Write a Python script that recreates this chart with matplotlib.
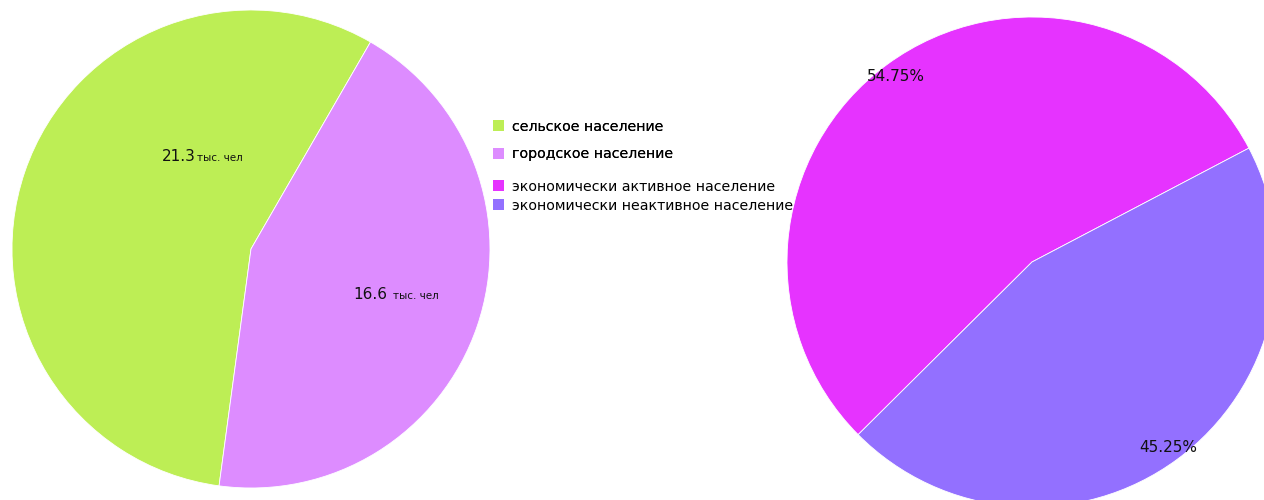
import matplotlib.pyplot as plt
from matplotlib.patches import Patch

# левая диаграмма: население, тыс. чел
pop_labels = ['сельское население', 'городское население']
pop_values = [21.3, 16.6]
pop_colors = ['#BDEE55', '#DD8CFF']

# правая диаграмма: экономическая активность, %
econ_labels = ['экономически активное население', 'экономически неактивное население']
econ_values = [54.75, 45.25]
econ_colors = ['#E633FF', '#9370FF']

W, H = 1264, 500
fig = plt.figure(figsize=(W / 100, H / 100), dpi=100)

# левая
cx, cy, r = 251, 249, 239
ax1 = fig.add_axes([(cx - r) / W, (H - cy - r) / H, 2 * r / W, 2 * r / H])
wedges1, _ = ax1.pie(pop_values, colors=pop_colors, startangle=60, counterclock=True,
                     wedgeprops=dict(edgecolor='white', linewidth=0.6))
ax1.set_xlim(-1, 1)
ax1.set_ylim(-1, 1)
ax1.set_aspect('equal')

# подписи левой диаграммы
ax1.text(-0.23, 0.385, '21.3', fontsize=11, ha='right', va='center', color='#111111')
ax1.text(-0.225, 0.38, 'тыс. чел', fontsize=7.5, ha='left', va='center', color='#111111')
ax1.text(0.57, -0.19, '16.6', fontsize=11, ha='right', va='center', color='#111111')
ax1.text(0.595, -0.195, 'тыс. чел', fontsize=7.5, ha='left', va='center', color='#111111')

# правая
cx2, cy2, r2 = 1032, 262, 245
ax2 = fig.add_axes([(cx2 - r2) / W, (H - cy2 - r2) / H, 2 * r2 / W, 2 * r2 / H])
wedges2, _, autotexts = ax2.pie(econ_values, colors=econ_colors, startangle=27.7,
                                counterclock=True, autopct='%.2f%%', pctdistance=0.94,
                                wedgeprops=dict(edgecolor='white', linewidth=0.6),
                                textprops=dict(fontsize=11, color='#111111'))
ax2.set_xlim(-1, 1)
ax2.set_ylim(-1, 1)
ax2.set_aspect('equal')

# легенды
h1 = [Patch(facecolor=c, edgecolor='none') for c in pop_colors]
h2 = [Patch(facecolor=c, edgecolor='none') for c in econ_colors]
leg1 = fig.legend(h1, pop_labels, loc='upper left', bbox_to_anchor=(487 / W, 1 - 114 / H),
                  frameon=False, fontsize=10.2, handlelength=0.8, handleheight=0.8,
                  handletextpad=0.6, labelspacing=0.95, borderaxespad=0)
fig.add_artist(leg1)
fig.legend(h2, econ_labels, loc='upper left', bbox_to_anchor=(487 / W, 1 - 174 / H),
           frameon=False, fontsize=10.2, handlelength=0.8, handleheight=0.8,
           handletextpad=0.6, labelspacing=0.35, borderaxespad=0)

fig.savefig('out.png', dpi=100)
